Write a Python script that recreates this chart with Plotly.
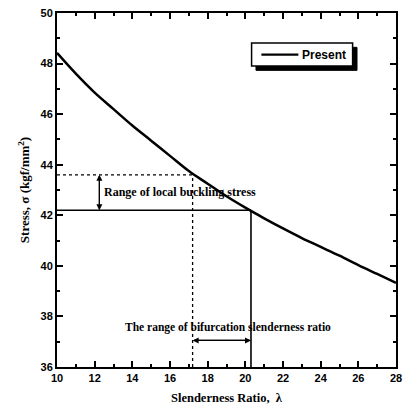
import plotly.graph_objects as go

# Slenderness ratio vs. local buckling stress
slenderness = [10, 11, 12, 13, 14, 15, 16, 17, 18, 19, 20, 21, 22, 23, 24, 25, 26, 27, 28]
stress = [48.42, 47.60, 46.85, 46.20, 45.55, 44.95, 44.35, 43.75, 43.25, 42.75,
          42.30, 41.88, 41.48, 41.10, 40.75, 40.40, 40.03, 39.68, 39.33]

# Range markers
lam_low, lam_high = 17.2, 20.3
sig_low, sig_high = 42.2, 43.6
x_range = [10, 28]
y_range = [36, 50]
series_name = "Present"

serif = "Liberation Serif"
sans = "Liberation Sans"

fig = go.Figure()
fig.add_trace(go.Scatter(
    x=slenderness, y=stress, mode="lines", name=series_name, showlegend=False,
    line=dict(color="black", width=2.5, shape="spline"),
))

# guide lines
fig.add_shape(type="line", x0=x_range[0], x1=lam_low, y0=sig_high, y1=sig_high,
              line=dict(color="black", width=1.3, dash="dot"))
fig.add_shape(type="line", x0=lam_low, x1=lam_low, y0=y_range[0], y1=sig_high,
              line=dict(color="black", width=1.3, dash="dot"))
fig.add_shape(type="line", x0=x_range[0], x1=lam_high, y0=sig_low, y1=sig_low,
              line=dict(color="black", width=1.6))
fig.add_shape(type="line", x0=lam_high, x1=lam_high, y0=y_range[0], y1=sig_low,
              line=dict(color="black", width=1.6))

# double arrows
arrow_x = 12.25
arrow_y = 37.05
for (x, y, ax, ay) in [(arrow_x, sig_high, arrow_x, sig_low), (arrow_x, sig_low, arrow_x, sig_high),
                       (lam_low, arrow_y, lam_high, arrow_y), (lam_high, arrow_y, lam_low, arrow_y)]:
    fig.add_annotation(x=x, y=y, ax=ax, ay=ay, xref="x", yref="y", axref="x", ayref="y",
                       text="", showarrow=True, arrowhead=2, arrowsize=1, arrowwidth=1.2,
                       arrowcolor="black")

fig.add_annotation(x=12.4, y=42.92, xref="x", yref="y", text="<b>Range of local buckling stress</b>",
                   showarrow=False, xanchor="left", yanchor="middle",
                   font=dict(family=serif, size=12, color="black"))
fig.add_annotation(x=13.5, y=37.55, xref="x", yref="y",
                   text="<b>The range of bifurcation slenderness ratio</b>",
                   showarrow=False, xanchor="left", yanchor="middle",
                   font=dict(family=serif, size=11.5, color="black"))

# boxed legend with drop shadow
lx0, lx1, ly0, ly1 = 0.574, 0.872, 0.850, 0.915
shadow_dx, shadow_dy = 0.013, 0.012
fig.add_shape(type="rect", xref="paper", yref="paper", x0=lx0 + shadow_dx, x1=lx1 + shadow_dx,
              y0=ly0 - shadow_dy, y1=ly1 - shadow_dy, fillcolor="black", opacity=1,
              line=dict(color="black", width=1), layer="above")
fig.add_shape(type="rect", xref="paper", yref="paper", x0=lx0, x1=lx1, y0=ly0, y1=ly1,
              fillcolor="white", opacity=1, line=dict(color="black", width=1.5), layer="above")
fig.add_shape(type="line", xref="paper", yref="paper", x0=0.603, x1=0.712,
              y0=(ly0 + ly1) / 2, y1=(ly0 + ly1) / 2, line=dict(color="black", width=2.2), layer="above")
fig.add_annotation(x=0.716, y=(ly0 + ly1) / 2, xref="paper", yref="paper",
                   text="<b>" + series_name + "</b>", showarrow=False, xanchor="left", yanchor="middle",
                   font=dict(family=sans, size=12, color="black"))

axis_common = dict(
    showline=True, linecolor="black", linewidth=2, mirror="ticks",
    ticks="inside", ticklen=6, tickwidth=2, tickcolor="black",
    showgrid=False, zeroline=False, ticklabeloverflow="allow",
    tickfont=dict(family=sans, size=11, color="black", weight="bold"),
    minor=dict(ticks="inside", ticklen=3, tickwidth=1.5, tickcolor="black", dtick=1, showgrid=False),
)

fig.update_xaxes(range=x_range, dtick=2, tick0=10,
                 title=dict(text="<b>Slenderness Ratio,  λ</b>", font=dict(family=serif, size=12.5, color="black"),
                            standoff=10),
                 **axis_common)
fig.update_yaxes(range=y_range, dtick=2, tick0=36,
                 title=dict(text="<b>Stress, σ (kgf/mm<sup>2</sup>)</b>", font=dict(family=serif, size=13, color="black"),
                            standoff=8),
                 **axis_common)

fig.update_layout(
    width=406, height=410,
    margin=dict(l=57, r=4, t=13, b=43),
    plot_bgcolor="white", paper_bgcolor="white",
    showlegend=False,
)

fig.write_html("out.html")
